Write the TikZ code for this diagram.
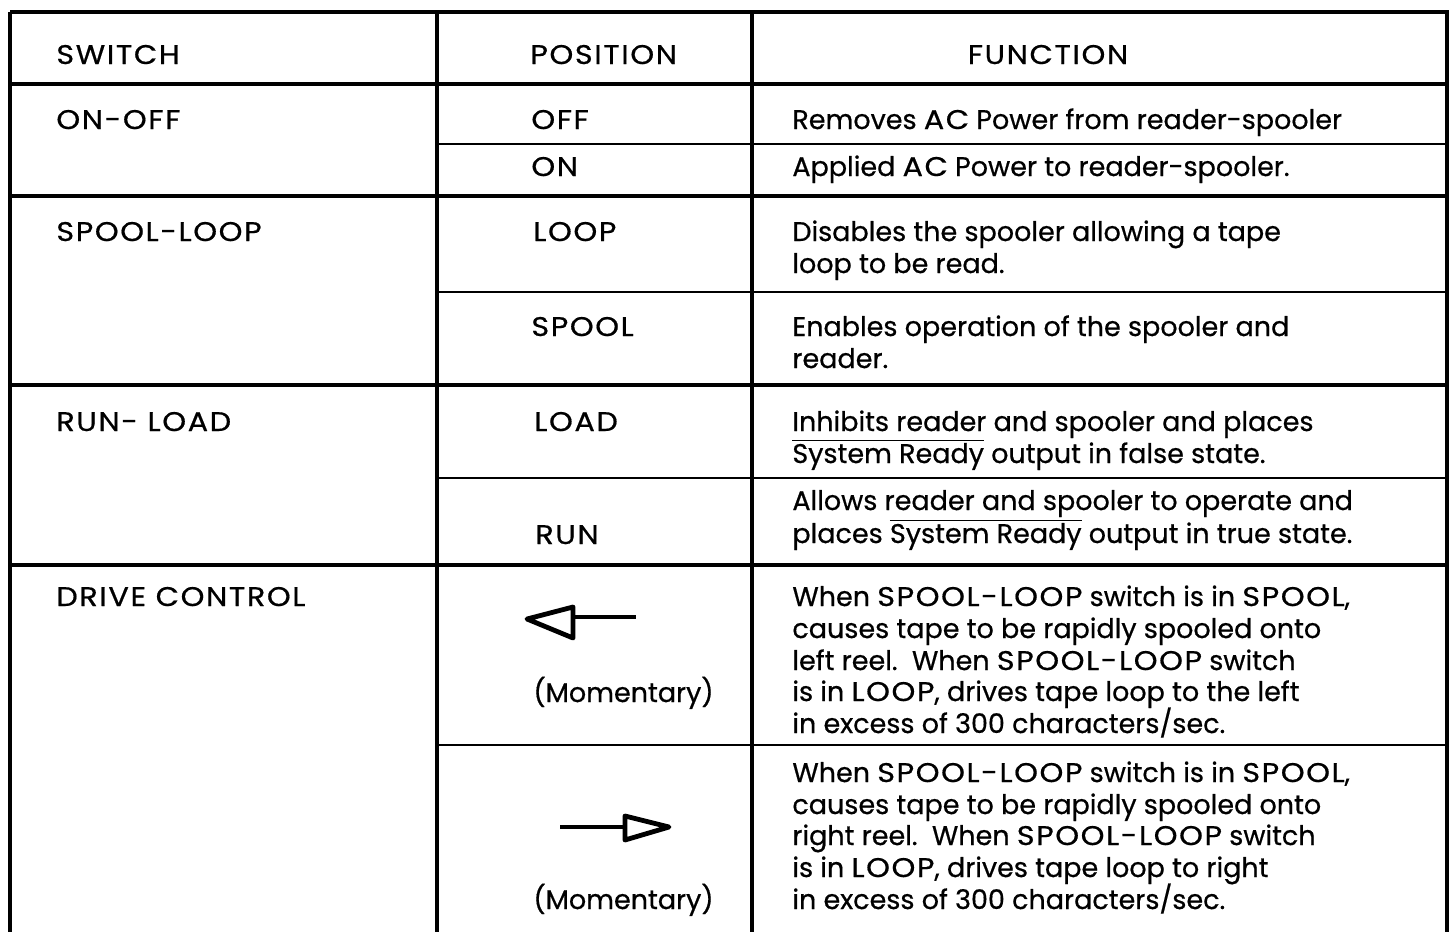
\documentclass[tikz,border=0pt]{standalone}
\usepackage{fontspec}
\setmainfont[FakeBold=0.6]{Poppins}
\newfontfamily\capsfont[FakeBold=0.6, FakeStretch=1.12, LetterSpace=6]{Poppins}
\tikzset{
  rule/.style={line width=1.6pt},
  thinrule/.style={line width=1.2pt},
  cell/.style={anchor=base west, inner sep=0pt},
  tip/.style={line width=2.4pt, line join=round}
}
\newcommand{\caps}[1]{{\capsfont #1}}
\newcommand{\notready}{$\overline{\mbox{System Ready}}$}
\begin{document}
\begin{tikzpicture}[x=0.5pt,y=-0.5pt]
\useasboundingbox (0,0) rectangle (1449,932);
{\fontsize{13.5}{16}\selectfont

% Drawing outer frame and columns
\draw [rule] (10,12) -- (1449,12);%
\draw [rule] (10,12) -- (10,932);%
\draw [rule] (437,12) -- (437,932);%
\draw [rule] (752,12) -- (752,932);%
\draw [rule] (1447,12) -- (1447,932);%

% Drawing row rules across all columns
\draw [rule] (10,84) -- (1449,84);%
\draw [rule] (10,196) -- (1449,196);%
\draw [rule] (10,385) -- (1449,385);%
\draw [rule] (10,565) -- (1449,565);%

% Drawing row rules across position and function
\draw [thinrule] (437,144) -- (1449,144);%
\draw [thinrule] (437,292) -- (1449,292);%
\draw [thinrule] (437,478) -- (1449,478);%
\draw [thinrule] (437,745) -- (1449,745);%

% Header
\node [cell] (hswitch) at (56,64) {\caps{SWITCH}};%
\node [cell] (hposition) at (530,64) {\caps{POSITION}};%
\node [anchor=base, inner sep=0pt] (hfunction) at (1048,64) {\caps{FUNCTION}};%

% Switch ON-OFF
\node [cell] (sonoff) at (56,129) {\caps{ON-OFF}};%
\node [cell] (poff) at (531,129) {\caps{OFF}};%
\node [cell] (fremove) at (792,129) {Removes \caps{AC} Power from reader-spooler};%
\node [cell] (pon) at (531,176) {\caps{ON}};%
\node [cell] (fapply) at (792,176) {Applied \caps{AC} Power to reader-spooler.};%

% Switch SPOOL-LOOP
\node [cell] (sspool) at (56,241) {\caps{SPOOL-LOOP}};%
\node [cell] (ploop) at (533,241) {\caps{LOOP}};%
\node [cell] (fdisa) at (792,241) {Disables the spooler allowing a tape};%
\node [cell] (fdisb) at (792,273) {loop to be read.};%
\node [cell] (pspool) at (531,336) {\caps{SPOOL}};%
\node [cell] (fena) at (792,336) {Enables operation of the spooler and};%
\node [cell] (fenb) at (792,368) {reader.};%

% Switch RUN-LOAD
\node [cell] (srun) at (56,431) {\caps{RUN- LOAD}};%
\node [cell] (pload) at (534,431) {\caps{LOAD}};%
\node [cell] (finha) at (792,431) {Inhibits reader and spooler and places};%
\node [cell] (finhb) at (792,463) {\notready{} output in false state.};%
\node [cell] (prun) at (535,544) {\caps{RUN}};%
\node [cell] (falla) at (792,510) {Allows reader and spooler to operate and};%
\node [cell] (fallb) at (792,543) {places \notready{} output in true state.};%

% Switch DRIVE CONTROL, left
\node [cell] (sdrive) at (56,606) {\caps{DRIVE CONTROL}};%
\draw [tip] (573,607) -- (527,619) -- (573,638) -- cycle;%
\draw [tip] (573,617) -- (636,617);%
\node [cell] (pmomleft) at (533,702) {(Momentary)};%
\node [cell] (flefta) at (792,606) {When \caps{SPOOL-LOOP} switch is in \caps{SPOOL},};%
\node [cell] (fleftb) at (792,638) {causes tape to be rapidly spooled onto};%
\node [cell] (fleftc) at (792,670) {left reel.\ \ When \caps{SPOOL-LOOP} switch};%
\node [cell] (fleftd) at (792,701) {is in \caps{LOOP}, drives tape loop to the left};%
\node [cell] (flefte) at (792,733) {in excess of 300 characters/sec.};%

% Switch DRIVE CONTROL, right
\draw [tip] (560,827) -- (625,827);%
\draw [tip] (625,816) -- (669,827) -- (625,840) -- cycle;%
\node [cell] (pmomright) at (533,909) {(Momentary)};%
\node [cell] (frighta) at (792,782) {When \caps{SPOOL-LOOP} switch is in \caps{SPOOL},};%
\node [cell] (frightb) at (792,814) {causes tape to be rapidly spooled onto};%
\node [cell] (frightc) at (792,845) {right reel.\ \ When \caps{SPOOL-LOOP} switch};%
\node [cell] (frightd) at (792,877) {is in \caps{LOOP}, drives tape loop to right};%
\node [cell] (frighte) at (792,909) {in excess of 300 characters/sec.};%
}
\end{tikzpicture}
\end{document}
